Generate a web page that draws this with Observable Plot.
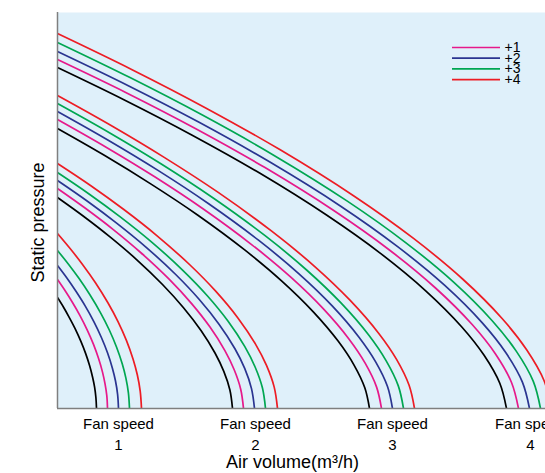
<!DOCTYPE html>
<html><head><meta charset="utf-8">
<script src="https://cdn.jsdelivr.net/npm/d3@7"></script>
<script src="https://cdn.jsdelivr.net/npm/@observablehq/plot@0.6"></script>
<style>
html,body{margin:0;padding:0;background:#fff;overflow:hidden;}
#chart{width:545px;height:473px;}
</style></head><body><div id="chart"></div>
<script>
// Series (black = base curve, not in legend)
const seriesNames = ["base", "+1", "+2", "+3", "+4"];
const seriesColors = ["#000000", "#e6198a", "#2a3490", "#00a651", "#ed1c24"];
const legendNames = ["+1", "+2", "+3", "+4"];
const fanSpeeds = ["1", "2", "3", "4"];
const tickCenters = [61, 198, 335, 473];
const axisTitleX = "Air volume(m³/h)";
const axisTitleY = "Static pressure";

// Fan speed 1: air volume / static pressure for base,+1,+2,+3,+4
const fan1Air = [
  [0, 5.9, 11.7, 17.6, 23.4, 28.1, 32, 35.1, 37.1, 38.4, 39],
  [0, 7.5, 15, 22.5, 30, 36, 41, 45, 47.5, 49.3, 50],
  [0, 9.2, 18.3, 27.5, 36.6, 43.9, 50, 54.9, 58, 60.1, 61],
  [0, 10.8, 21.6, 32.4, 43.2, 51.8, 59, 64.8, 68.4, 70.9, 72],
  [0, 12.6, 25.2, 37.8, 50.4, 60.5, 68.9, 75.6, 79.8, 82.7, 84]
];
const fan1Pressure = [
  [111, 101.5, 91.2, 79.9, 67.1, 55.1, 43.2, 31.3, 21.4, 11, 0],
  [129, 118, 106, 92.9, 77.9, 64.1, 50.2, 36.4, 24.8, 12.8, 0],
  [143, 130.8, 117.5, 102.9, 86.4, 71, 55.7, 40.3, 27.5, 14.2, 0],
  [158, 144.5, 129.9, 113.7, 95.4, 78.5, 61.5, 44.5, 30.4, 15.7, 0],
  [175, 160, 143.8, 126, 105.7, 86.9, 68.1, 49.3, 33.7, 17.4, 0]
];
// Fan speed 2
const fan2Air = [
  [0, 26.3, 52.5, 78.8, 105, 126, 143.5, 157.5, 166.3, 172.4, 175],
  [0, 27.9, 55.8, 83.7, 111.6, 133.9, 152.5, 167.4, 176.7, 183.2, 186],
  [0, 29.6, 59.1, 88.7, 118.2, 141.8, 161.5, 177.3, 187.2, 194, 197],
  [0, 31.2, 62.4, 93.6, 124.8, 149.8, 170.6, 187.2, 197.6, 204.9, 208],
  [0, 33, 66, 99, 132, 158.4, 180.4, 198, 209, 216.7, 220]
];
const fan2Pressure = [
  [211, 192, 171.6, 149.2, 124, 100.8, 78, 55.5, 37.1, 18.5, 0],
  [220, 200.2, 178.9, 155.5, 129.3, 105.1, 81.4, 57.9, 38.7, 19.3, 0],
  [228, 207.5, 185.4, 161.2, 134, 109, 84.3, 60, 40.1, 19.9, 0],
  [236, 214.8, 191.9, 166.9, 138.7, 112.8, 87.3, 62.1, 41.5, 20.7, 0],
  [245, 223, 199.2, 173.2, 144, 117.1, 90.6, 64.4, 43.1, 21.4, 0]
];
// Fan speed 3
const fan3Air = [
  [0, 46.8, 93.6, 140.4, 187.2, 224.6, 255.8, 280.8, 296.4, 307.3, 312],
  [0, 48.6, 97.2, 145.8, 194.4, 233.3, 265.7, 291.6, 307.8, 319.1, 324],
  [0, 50.3, 100.5, 150.8, 201, 241.2, 274.7, 301.5, 318.3, 330, 335],
  [0, 51.9, 103.8, 155.7, 207.6, 249.1, 283.7, 311.4, 328.7, 340.8, 346],
  [0, 53.6, 107.1, 160.7, 214.2, 257, 292.7, 321.3, 339.2, 351.6, 357]
];
const fan3Pressure = [
  [280, 253.2, 224.4, 193.3, 158.6, 127.2, 96.7, 67.2, 43.7, 20.7, 0],
  [289, 261.3, 231.7, 199.5, 163.7, 131.3, 99.8, 69.3, 45.1, 21.4, 0],
  [297, 268.5, 238.1, 205, 168.3, 134.9, 102.6, 71.3, 46.4, 22, 0],
  [305, 275.8, 244.5, 210.5, 172.8, 138.5, 105.3, 73.2, 47.6, 22.6, 0],
  [313, 283, 250.9, 216.1, 177.3, 142.2, 108.1, 75.1, 48.9, 23.2, 0]
];
// Fan speed 4
const fan4Air = [
  [0, 67.4, 134.7, 202.1, 269.4, 323.3, 368.2, 404.1, 426.6, 442.3, 449],
  [0, 69.2, 138.3, 207.5, 276.6, 331.9, 378, 414.9, 438, 454.1, 461],
  [0, 70.8, 141.6, 212.4, 283.2, 339.8, 387, 424.8, 448.4, 464.9, 472],
  [0, 72.5, 144.9, 217.4, 289.8, 347.8, 396.1, 434.7, 458.9, 475.8, 483],
  [0, 74.1, 148.2, 222.3, 296.4, 355.7, 405.1, 444.6, 469.3, 486.6, 494]
];
const fan4Pressure = [
  [341, 308.3, 273.3, 235.4, 193.2, 154.9, 117.7, 81.8, 53.2, 25.2, 0],
  [349, 315.6, 279.8, 240.9, 197.7, 158.5, 120.5, 83.7, 54.5, 25.8, 0],
  [357, 322.8, 286.2, 246.4, 202.3, 162.1, 123.3, 85.6, 55.7, 26.4, 0],
  [366, 330.9, 293.4, 252.6, 207.4, 166.2, 126.4, 87.8, 57.1, 27.1, 0],
  [375, 339.1, 300.6, 258.9, 212.5, 170.3, 129.5, 90, 58.5, 27.8, 0]
];

const airSets = [fan1Air, fan2Air, fan3Air, fan4Air];
const pressureSets = [fan1Pressure, fan2Pressure, fan3Pressure, fan4Pressure];
const data = [];
airSets.forEach((set, s) => set.forEach((xs, k) => xs.forEach((x, i) => {
  data.push({speed: fanSpeeds[s], series: seriesNames[k], air: x, pressure: pressureSets[s][k][i]});
})));

const font = "'Liberation Sans', Arial, Helvetica, sans-serif";
const legendTop = 361, legendStep = 10.7;
const legendRows = legendNames.map((name, i) => ({name, y: legendTop - i * legendStep}));

const chart = Plot.plot({
  width: 545,
  height: 473,
  marginLeft: 57,
  marginRight: 0,
  marginTop: 12,
  marginBottom: 65,
  x: {domain: [0, 488], axis: null},
  y: {domain: [0, 396], axis: null},
  color: {domain: seriesNames, range: seriesColors},
  style: {fontFamily: font, background: "#ffffff", color: "#000"},
  marks: [
    Plot.frame({fill: "#dff0fa", stroke: null}),
    Plot.line(data, {
      x: "air", y: "pressure", z: d => d.speed + "|" + d.series,
      stroke: "series", strokeWidth: 1.7, curve: "catmull-rom", clip: true
    }),
    Plot.ruleX([0], {stroke: "#7f7f7f", strokeWidth: 1.5}),
    Plot.ruleY([0], {stroke: "#7f7f7f", strokeWidth: 1.5}),
    Plot.axisX(tickCenters, {
      tickSize: 0, tickPadding: 6, fontSize: 15, lineHeight: 1.4,
      tickFormat: d => "Fan speed\n" + fanSpeeds[tickCenters.indexOf(d)],
      label: null
    }),
    Plot.text([axisTitleX], {frameAnchor: "bottom", lineAnchor: "bottom", textAnchor: "middle", dy: 59, dx: -9, fontSize: 18}),
    Plot.text([axisTitleY], {frameAnchor: "left", textAnchor: "middle", lineAnchor: "middle", rotate: -90, dx: -19, dy: 12, fontSize: 18}),
    Plot.ruleY(legendRows, {y: "y", x1: 395, x2: 443, stroke: d => d.name, strokeWidth: 1.7}),
    Plot.text(legendRows, {y: "y", x: 447, text: "name", textAnchor: "start", fontSize: 14})
  ]
});
document.getElementById("chart").appendChild(chart);
</script>
</body></html>
